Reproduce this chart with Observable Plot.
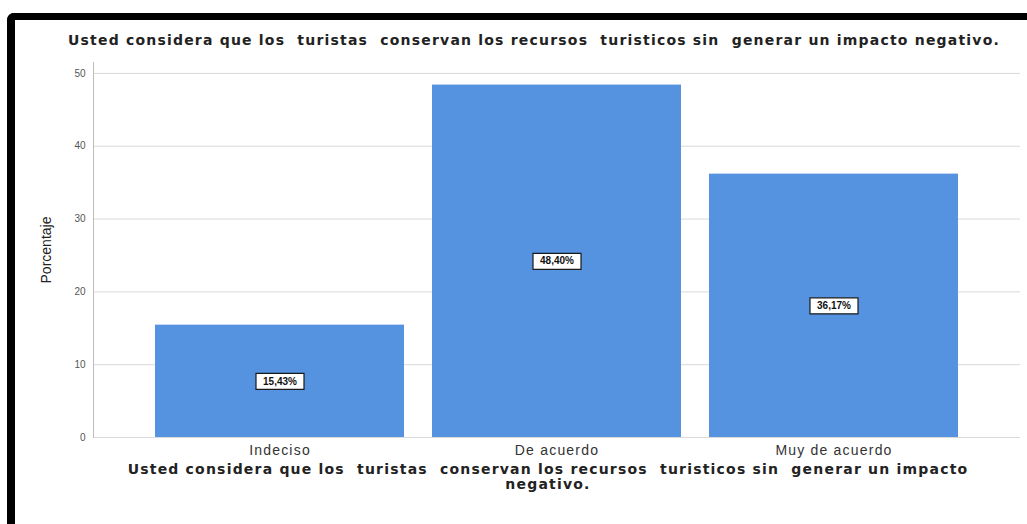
<!DOCTYPE html>
<html>
<head>
<meta charset="utf-8">
<script src="https://cdn.jsdelivr.net/npm/d3@7"></script>
<script src="https://cdn.jsdelivr.net/npm/@observablehq/plot@0.6"></script>
<style>
  html, body { margin: 0; padding: 0; background: #fff; }
  body { width: 1027px; height: 524px; position: relative; overflow: hidden; font-family: "Liberation Sans", Arial, sans-serif; }
  #frame { position: absolute; left: 7px; top: 13px; width: 1100px; height: 600px; border-left: 8px solid #000; border-top: 7px solid #000; border-top-left-radius: 7px; }
  #title { position: absolute; left: 0; width: 1068px; top: 32px; text-align: center; font-family: "DejaVu Sans", sans-serif; font-size: 14px; font-weight: bold; color: #222; letter-spacing: 1.2px; white-space: pre; }
  #chart { position: absolute; left: 0; top: 55px; }
  #xtitle { position: absolute; left: 0; width: 1096px; top: 462px; text-align: center; font-family: "DejaVu Sans", sans-serif; font-size: 14px; font-weight: bold; color: #222; line-height: 15px; letter-spacing: 1.2px; white-space: pre; }
  #ytitle { position: absolute; left: 46px; top: 250px; transform: translate(-50%, -50%) rotate(-90deg); font-size: 14px; color: #222; white-space: nowrap; }
  g[aria-label="x-axis tick label"] text { letter-spacing: 1.2px; }
</style>
</head>
<body>
<div id="frame"></div>
<div id="title"></div>
<div id="chart"></div>
<div id="ytitle"></div>
<div id="xtitle"></div>
<script>
const categories = ["Indeciso", "De acuerdo", "Muy de acuerdo"];
const percents = [15.43, 48.40, 36.17];
const valueLabels = ["15,43%", "48,40%", "36,17%"];
const yTicks = [0, 10, 20, 30, 40, 50];
const titleText = "Usted considera que los  turistas  conservan los recursos  turisticos sin  generar un impacto negativo.";
const xTitleText = "Usted considera que los  turistas  conservan los recursos  turisticos sin  generar un impacto\nnegativo.";
const yTitleText = "Porcentaje";

const data = categories.map((c, i) => ({category: c, value: percents[i], label: valueLabels[i]}));

document.getElementById("title").textContent = titleText;
document.getElementById("xtitle").textContent = xTitleText;
document.getElementById("ytitle").textContent = yTitleText;

const boxSymbol = { draw(ctx) { ctx.rect(-24, -8, 48, 16); } };

const chart = Plot.plot({
  width: 1027,
  height: 410,
  marginLeft: 93,
  marginRight: 7,
  marginTop: 7,
  marginBottom: 28,
  style: { fontFamily: "Liberation Sans, Arial, sans-serif", background: "transparent" },
  x: { domain: categories, paddingInner: 0.1, paddingOuter: 0.22, label: null },
  y: { domain: [0, 51.5], label: null },
  marks: [
    Plot.gridY(yTicks, { stroke: "#d9d9d9", strokeOpacity: 1 }),
    Plot.barY(data, { x: "category", y: "value", fill: "#5592e0" }),
    Plot.frame({ anchor: "left", stroke: "#bdbdbd" }),
    Plot.dot(data, { x: "category", y: d => d.value / 2, symbol: boxSymbol, fill: "#fff", stroke: "#1a1a1a", strokeWidth: 1.2, r: 5 }),
    Plot.text(data, { x: "category", y: d => d.value / 2, text: "label", fontSize: 10, fontWeight: "bold", fill: "#111" }),
    Plot.axisY(yTicks, { tickSize: 0, tickPadding: 8, fontSize: 10, fill: "#555", label: null }),
    Plot.axisX({ tickSize: 0, tickPadding: 8, fontSize: 14, fill: "#333", label: null })
  ]
});
document.getElementById("chart").appendChild(chart);
</script>
</body>
</html>
